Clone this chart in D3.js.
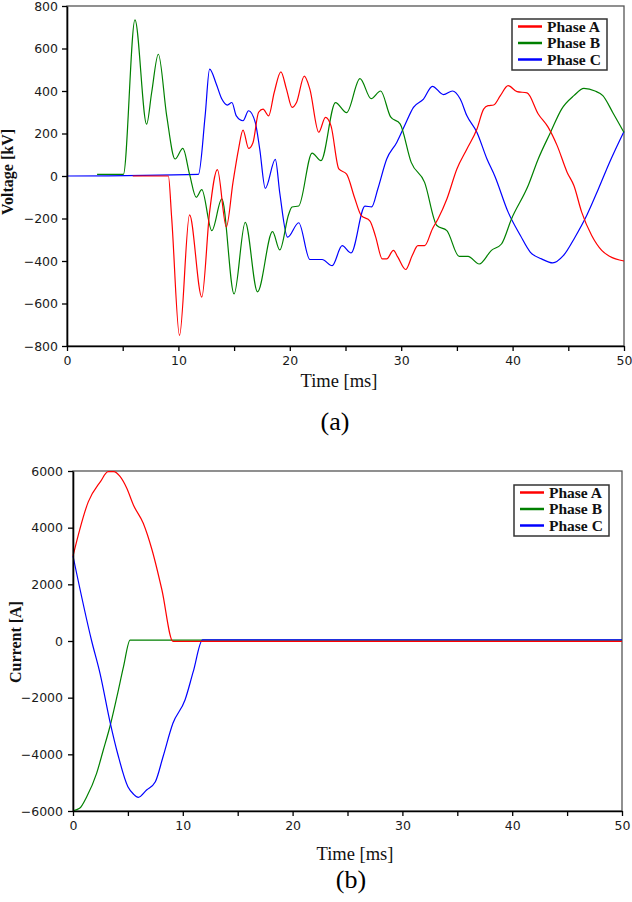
<!DOCTYPE html>
<html>
<head>
<meta charset="utf-8">
<script src="https://cdn.jsdelivr.net/npm/d3@7"></script>
<style>
body { margin: 0; background: #fff; }
</style>
</head>
<body>
<div id="chart"></div>
<script>
var width = 632,
    height = 902;

// ticks
var timeTicks = [0, 5, 10, 15, 20, 25, 30, 35, 40, 45, 50];
var voltTicks = [-800, -600, -400, -200, 0, 200, 400, 600, 800];
var currTicks = [-6000, -4000, -2000, 0, 2000, 4000, 6000];
var phaseNames = ["Phase A", "Phase B", "Phase C"];
var phaseColors = ["#ff0000", "#008000", "#0000ff"];

// (a) voltage [kV] vs time [ms]
var voltA = [[5.9,0],[9.1,0],[9.4,-200],[10.1,-750],[11.0,-183],[12.1,-570],[12.8,-170],[13.5,30],
  [14.3,-240],[14.9,-30],[15.4,127],[15.8,216],[16.3,130],[16.7,158],[17.2,300],[17.6,315],[18.1,283],
  [18.6,393],[19.2,490],[19.7,409],[20.2,323],[20.6,346],[21.3,470],[21.8,409],[22.6,206],[23.2,276],
  [23.7,236],[24.4,33],[25.1,9],[25.8,-100],[26.4,-185],[27.2,-212],[27.7,-285],[28.3,-390],[28.7,-390],
  [29.3,-350],[29.7,-382],[30.4,-440],[31.0,-373],[31.5,-328],[32.1,-328],[32.8,-249],[33.3,-202],
  [34.1,-108],[35.0,33],[35.9,127],[36.8,221],[37.4,315],[37.8,331],[38.3,334],[38.9,378],[39.6,425],
  [40.4,397],[41.3,391],[42.3,292],[43.2,229],[44.0,143],[44.9,17],[45.5,-45],[46.2,-170],[47.1,-280],
  [48.0,-350],[48.7,-378],[50,-400]];
var voltB = [[2.7,8],[5.06,8],[6.1,735],[7.15,244],[7.6,393],[8.2,573],[8.95,283],[9.7,80],[10.4,130],
  [11.0,9],[11.6,-100],[12.1,-64],[13.0,-257],[13.9,-108],[15.0,-555],[16.0,-218],[17.1,-545],
  [18.45,-262],[19.1,-348],[19.9,-180],[20.2,-146],[20.8,-141],[22.0,108],[22.8,72],[24.1,345],
  [25.1,298],[26.3,458],[27.3,364],[28.15,400],[29.05,278],[29.9,245],[30.9,64],[32.1,-30],[33.2,-233],
  [34.1,-257],[35.2,-378],[36.0,-378],[37.0,-414],[38.1,-350],[39.0,-320],[39.9,-202],[41.4,-45],
  [42.3,80],[43.4,205],[44.4,315],[45.5,378],[46.4,412],[47.4,400],[48.1,378],[49.0,298],[50,205]];
var voltC = [[0,0],[11.8,8],[12.4,283],[12.8,503],[13.4,433],[13.9,362],[14.4,334],[14.8,346],[15.2,283],
  [15.8,260],[16.3,307],[16.9,252],[17.3,127],[17.8,-58],[18.7,78],[19.1,-80],[19.8,-288],[20.8,-220],
  [21.8,-393],[22.9,-393],[23.8,-422],[24.7,-328],[25.5,-362],[26.75,-142],[27.35,-145],[27.9,-61],
  [28.7,80],[29.6,158],[30.3,236],[31.1,323],[32.0,362],[32.8,422],[33.8,383],[34.6,400],[35.3,362],
  [35.9,283],[36.8,205],[37.7,80],[38.4,0],[39.6,-170],[40.7,-280],[41.6,-359],[42.6,-390],[43.6,-409],
  [44.55,-375],[45.6,-288],[46.65,-186],[47.7,-61],[48.7,64],[50,210]];

// (b) current [A] vs time [ms]
var currA = [[0,3000],[1.4,4920],[2.5,5625],[3.2,5977],[3.7,5977],[4.3,5800],[4.9,5390],[5.5,4800],
  [6.4,4155],[7.2,3212],[8.1,1800],[9.1,-10],[50,-10]];
var currB = [[0,-5990],[0.6,-5906],[1.25,-5496],[2.15,-4670],[2.76,-3848],[3.4,-2965],[4.0,-1966],
  [4.6,-907],[5.2,30],[50,30]];
var currC = [[0,3000],[1.7,0],[2.46,-1140],[3.4,-2905],[4.1,-4024],[5.0,-5143],[5.5,-5400],[5.95,-5520],
  [6.7,-5260],[7.5,-4967],[8.2,-4084],[9.1,-2905],[10.2,-2083],[10.95,-1083],[11.8,40],[50,40]];

var svg = d3.select('#chart').append('svg')
  .attr('width', width)
  .attr('height', height)
  .style('display', 'block')
  .style('background', '#fff');

function panel(o) {
  var x = d3.scaleLinear().domain([0, 50]).range([o.left, o.right]);
  var y = d3.scaleLinear().domain(o.yDomain).range([o.bottom, o.top]);
  var g = svg.append('g');

  // box
  g.append('rect')
    .attr('x', o.left).attr('y', o.top)
    .attr('width', o.right - o.left).attr('height', o.bottom - o.top)
    .attr('fill', 'none').attr('stroke', '#555').attr('stroke-width', 1.3);

  var line = d3.line()
    .x(function(d) { return x(d[0]); })
    .y(function(d) { return y(d[1]); })
    .curve(d3.curveMonotoneX);

  o.order.forEach(function(i) {
    g.append('path')
      .datum(o.series[i])
      .attr('d', line)
      .attr('fill', 'none')
      .attr('stroke', phaseColors[i])
      .attr('stroke-width', 1.2)
      .attr('stroke-linejoin', 'round');
  });

  var xAxis = g.append('g')
    .attr('transform', 'translate(0,' + o.bottom + ')')
    .call(d3.axisBottom(x).tickValues(timeTicks).tickSize(5).tickSizeOuter(0).tickPadding(5)
      .tickFormat(function(d) { return d % 10 === 0 ? d : ''; }));
  var yAxis = g.append('g')
    .attr('transform', 'translate(' + o.left + ',0)')
    .call(d3.axisLeft(y).tickValues(o.yTicks).tickSize(5).tickSizeOuter(0).tickPadding(o.pad)
      .tickFormat(d3.format('d')));

  [xAxis, yAxis].forEach(function(a) {
    a.select('.domain').attr('stroke', '#000').attr('stroke-width', 1.6);
    a.selectAll('.tick line').attr('stroke', '#000').attr('stroke-width', 1.3);
    a.selectAll('.tick text')
      .attr('fill', '#1a1a1a')
      .style('font-family', '"DejaVu Sans", Verdana, sans-serif')
      .style('font-size', '12.5px');
  });

  // axis titles
  g.append('text')
    .attr('transform', 'translate(' + o.yTitleX + ',' + o.yTitleY + ') rotate(-90)')
    .attr('text-anchor', 'middle')
    .style('font-family', '"Liberation Serif", "Times New Roman", serif')
    .style('font-weight', 'bold')
    .style('font-size', '16px')
    .attr('fill', '#111')
    .text(o.yTitle);

  g.append('text')
    .attr('x', o.xTitleX).attr('y', o.xTitleY)
    .attr('text-anchor', 'middle')
    .style('font-family', '"Liberation Serif", "Times New Roman", serif')
    .style('font-size', '18.5px')
    .attr('fill', '#111')
    .text('Time [ms]');

  g.append('text')
    .attr('x', o.capX).attr('y', o.capY)
    .attr('text-anchor', 'middle')
    .style('font-family', '"Liberation Serif", "Times New Roman", serif')
    .style('font-size', '26px')
    .attr('fill', '#000')
    .text(o.caption);

  // legend
  var lg = g.append('g').attr('transform', 'translate(' + o.legX + ',' + o.legY + ')');
  lg.append('rect')
    .attr('width', 95).attr('height', 51)
    .attr('fill', '#fff').attr('stroke', '#333').attr('stroke-width', 1.5);
  phaseNames.forEach(function(name, i) {
    var cy = 7.5 + i * 16.5;
    lg.append('line')
      .attr('x1', 6).attr('x2', 30).attr('y1', cy).attr('y2', cy)
      .attr('stroke', phaseColors[i]).attr('stroke-width', 2.5);
    lg.append('text')
      .attr('x', 35).attr('y', cy + 5)
      .style('font-family', '"Liberation Serif", "Times New Roman", serif')
      .style('font-weight', 'bold')
      .style('font-size', '15.5px')
      .attr('fill', '#111')
      .text(name);
  });
}

panel({
  left: 67, right: 624, top: 6, bottom: 346,
  yDomain: [-800, 800], yTicks: voltTicks, pad: 4,
  series: [voltA, voltB, voltC], order: [2, 1, 0],
  yTitle: 'Voltage [kV]', yTitleX: 13, yTitleY: 172,
  xTitleX: 339, xTitleY: 387,
  caption: '(a)', capX: 335, capY: 430,
  legX: 512, legY: 19
});

panel({
  left: 73, right: 622, top: 471, bottom: 811,
  yDomain: [-6000, 6000], yTicks: currTicks, pad: 5,
  series: [currA, currB, currC], order: [1, 2, 0],
  yTitle: 'Current [A]', yTitleX: 21, yTitleY: 642,
  xTitleX: 355, xTitleY: 860,
  caption: '(b)', capX: 351, capY: 888,
  legX: 514, legY: 485
});
</script>
</body>
</html>
